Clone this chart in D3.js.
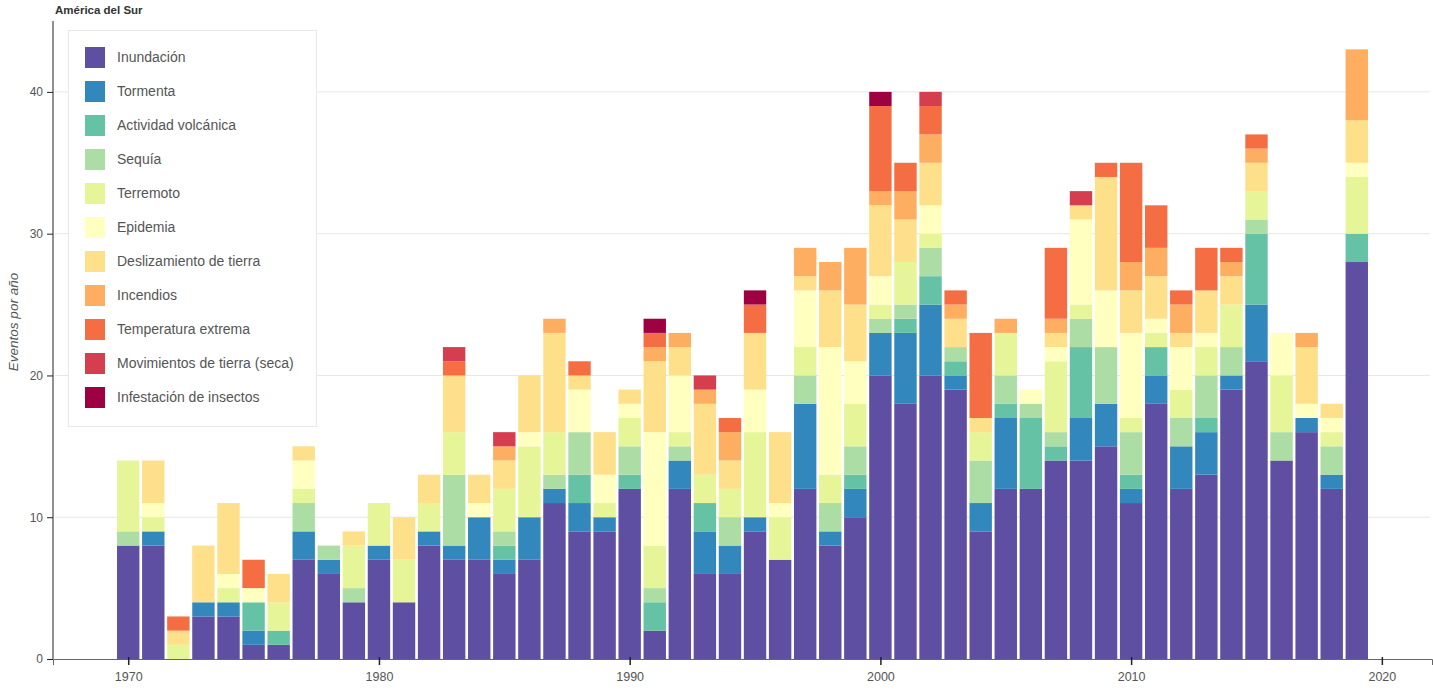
<!DOCTYPE html>
<html>
<head>
<meta charset="utf-8">
<script src="https://cdn.jsdelivr.net/npm/d3@7"></script>
<style>
  html, body { margin: 0; padding: 0; background: #fff; }
  svg { display: block; font-family: "Liberation Sans", Arial, sans-serif; }
</style>
</head>
<body>
<svg id="chart" width="1433" height="693"></svg>
<script>
const title = "América del Sur";
const yLabel = "Eventos por año";
const years = d3.range(1970, 2020);
const categories = ["Inundación", "Tormenta", "Actividad volcánica", "Sequía", "Terremoto", "Epidemia",
  "Deslizamiento de tierra", "Incendios", "Temperatura extrema", "Movimientos de tierra (seca)", "Infestación de insectos"];
const colors = ["#5e4fa2", "#3288bd", "#66c2a5", "#abdda4", "#e6f598", "#ffffbf", "#fee08b", "#fdae61", "#f46d43", "#d53e4f", "#9e0142"];

const inundacion = [8,8,0,3,3,1,1,7,6,4, 7,4,8,7,7,6,7,11,9,9, 12,2,12,6,6,9,7,12,8,10, 20,18,20,19,9,12,12,14,14,15, 11,18,12,13,19,21,14,16,12,28];
const tormenta   = [0,1,0,1,1,1,0,2,1,0, 1,0,1,1,3,1,3,1,2,1, 0,0,2,3,2,1,0,6,1,2, 3,5,5,1,2,5,0,0,3,3, 1,2,3,3,1,4,0,1,1,0];
const volcanica  = [0,0,0,0,0,2,1,0,0,0, 0,0,0,0,0,1,0,0,2,0, 1,2,0,2,0,0,0,0,0,1, 0,1,2,1,0,1,5,1,5,0, 1,2,0,1,0,5,0,0,0,2];
const sequia     = [1,0,0,0,0,0,0,2,1,1, 0,0,0,5,0,1,0,1,3,0, 2,1,1,0,2,0,0,2,2,2, 1,1,2,1,3,2,1,1,2,4, 3,0,2,3,2,1,2,0,2,0];
const terremoto  = [5,1,1,0,1,0,2,1,0,3, 3,3,2,3,0,3,5,3,0,1, 2,3,1,2,2,6,3,2,2,3, 1,3,1,0,2,3,0,5,1,0, 1,1,2,2,3,2,4,0,1,4];
const epidemia   = [0,1,0,0,1,1,0,2,0,0, 0,0,0,0,1,0,1,0,3,2, 1,8,4,0,0,3,1,4,9,3, 2,0,2,0,0,0,1,1,6,4, 6,1,3,1,0,0,3,1,1,1];
const deslizamiento = [0,3,1,4,5,0,2,1,0,1, 0,3,2,4,2,2,4,7,1,3, 1,5,2,5,2,4,5,1,4,4, 5,3,3,2,1,0,0,1,1,8, 3,3,1,3,2,2,0,4,1,3];
const incendios  = [0,0,0,0,0,0,0,0,0,0, 0,0,0,0,0,1,0,1,0,0, 0,1,1,1,2,0,0,2,2,4, 1,2,2,1,0,1,0,1,0,0, 2,2,2,0,1,1,0,1,0,5];
const temperatura = [0,0,1,0,0,2,0,0,0,0, 0,0,0,1,0,0,0,0,1,0, 0,1,0,0,1,2,0,0,0,0, 6,2,2,1,6,0,0,5,0,1, 7,3,1,3,1,1,0,0,0,0];
const movimientos = [0,0,0,0,0,0,0,0,0,0, 0,0,0,1,0,1,0,0,0,0, 0,0,0,1,0,0,0,0,0,0, 0,0,1,0,0,0,0,0,1,0, 0,0,0,0,0,0,0,0,0,0];
const infestacion = [0,0,0,0,0,0,0,0,0,0, 0,0,0,0,0,0,0,0,0,0, 0,1,0,0,0,1,0,0,0,0, 1,0,0,0,0,0,0,0,0,0, 0,0,0,0,0,0,0,0,0,0];
const yTicks = [0, 10, 20, 30, 40];
const xTicks = [1970, 1980, 1990, 2000, 2010, 2020];

const series = [inundacion, tormenta, volcanica, sequia, terremoto, epidemia, deslizamiento, incendios, temperatura, movimientos, infestacion];
const table = years.map((yr, i) => {
  const row = { year: yr };
  categories.forEach((c, k) => { row[c] = series[k][i]; });
  return row;
});

const svg = d3.select("#chart");
const x = d3.scaleLinear().domain([1967, 2022]).range([53, 1432]);
const y = d3.scaleLinear().domain([0, 45]).range([659, 21]);
const color = d3.scaleOrdinal().domain(categories).range(colors);
const barW = 22.4;

// gridlines
svg.append("g").selectAll("line").data(yTicks.filter(d => d > 0)).join("line")
  .attr("x1", 55).attr("x2", 1430)
  .attr("y1", d => y(d)).attr("y2", d => y(d))
  .attr("stroke", "#e6e6e6").attr("stroke-width", 1);

// bars
const stacked = d3.stack().keys(categories)(table);
svg.append("g").selectAll("g").data(stacked).join("g")
  .attr("fill", d => color(d.key))
  .selectAll("rect").data(d => d).join("rect")
  .attr("x", d => x(d.data.year) - barW / 2)
  .attr("width", barW)
  .attr("y", d => y(d[1]))
  .attr("height", d => y(d[0]) - y(d[1]));

// axes
const yAxis = svg.append("g").attr("transform", "translate(53,0)")
  .call(d3.axisLeft(y).tickValues(yTicks).tickSize(6).tickPadding(4));
yAxis.select(".domain").attr("d", `M0,${y(45)}V${y(0)}`).attr("stroke", "#222");
yAxis.selectAll(".tick line").attr("stroke", "#222");
yAxis.selectAll("text").attr("fill", "#555").attr("font-size", 12);

const xAxis = svg.append("g").attr("transform", `translate(0,${y(0)})`)
  .call(d3.axisBottom(x).tickValues(xTicks).tickFormat(d3.format("d")).tickSize(6).tickPadding(7));
xAxis.select(".domain").attr("stroke", "#666");
xAxis.selectAll(".tick line").attr("stroke", "#222").attr("stroke-width", 1.5).attr("y1", -2);
xAxis.selectAll("text").attr("fill", "#555").attr("font-size", 12.5);

// title
svg.append("text").attr("x", 55).attr("y", 14)
  .attr("font-size", 11.5).attr("font-weight", "bold").attr("fill", "#333").text(title);

// y label
svg.append("text")
  .attr("transform", "translate(18,322) rotate(-90)")
  .attr("text-anchor", "middle")
  .attr("font-size", 13.5).attr("font-style", "italic").attr("fill", "#555")
  .text(yLabel);

// legend
const lg = svg.append("g");
lg.append("rect").attr("x", 68.5).attr("y", 30.5).attr("width", 248).attr("height", 396)
  .attr("fill", "#fff").attr("stroke", "#e8e8e8");
const item = lg.selectAll("g.item").data(categories).join("g").attr("class", "item")
  .attr("transform", (d, i) => `translate(85,${57 + i * 34})`);
item.append("rect").attr("x", 0).attr("y", -10).attr("width", 20).attr("height", 21)
  .attr("fill", d => color(d));
item.append("text").attr("x", 32).attr("y", 5)
  .attr("font-size", 14).attr("fill", "#555").text(d => d);
</script>
</body>
</html>
